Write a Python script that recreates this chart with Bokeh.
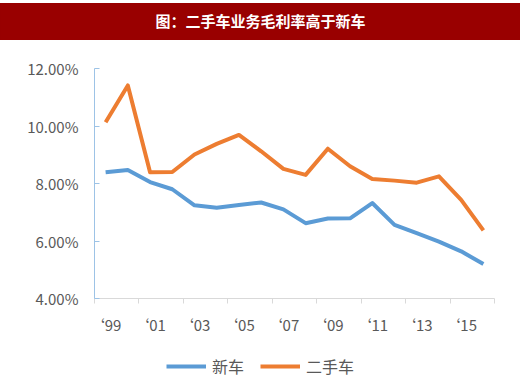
from bokeh.plotting import figure
from bokeh.layouts import column
from bokeh.models import (FixedTicker, PrintfTickFormatter, Legend, LegendItem, Range1d,
                          ColumnDataSource, Spacer)
from bokeh.core.properties import value
from bokeh.embed import file_html
from bokeh.resources import INLINE

title_text = "图：二手车业务毛利率高于新车"
years = ["1999", "2000", "2001", "2002", "2003", "2004", "2005", "2006", "2007",
         "2008", "2009", "2010", "2011", "2012", "2013", "2014", "2015", "2016"]
new_car = [8.39, 8.47, 8.05, 7.80, 7.24, 7.16, 7.25, 7.34, 7.10,
           6.62, 6.78, 6.79, 7.32, 6.56, 6.27, 5.98, 5.64, 5.20]
used_car = [10.13, 11.41, 8.39, 8.40, 9.01, 9.38, 9.69, 9.12, 8.51,
            8.30, 9.21, 8.60, 8.16, 8.10, 8.03, 8.25, 7.43, 6.37]
x_labels = ["‘99", "‘01", "‘03", "‘05", "‘07", "‘09", "‘11", "‘13", "‘15"]
y_ticks = [4, 6, 8, 10, 12]
series_names = ["新车", "二手车"]
colors = ["#5B9BD5", "#ED7D31"]

FONT = "Noto Sans CJK SC"
BAND = "#990000"

xs = [i + 0.5 for i in range(len(years))]
src = ColumnDataSource(dict(x=xs, year=years, new=new_car, used=used_car))

# ---- title band ----
tb = figure(width=520, height=37, output_backend="svg", toolbar_location=None,
            x_range=Range1d(0, 1), y_range=Range1d(0, 1),
            x_axis_type=None, y_axis_type=None, min_border=0)
tb.background_fill_color = BAND
tb.border_fill_color = BAND
tb.styles = {"background-color": BAND}
tb.outline_line_color = None
tb.grid.visible = False
tb.text(x=[0.415], y=[0.54], text=[title_text], text_color="white",
        text_font=value(FONT), text_font_style="bold", text_font_size="15px",
        text_align="center", text_baseline="middle")

# ---- main chart ----
p = figure(width=520, height=308, output_backend="svg", toolbar_location=None,
           x_range=Range1d(0, len(years)), y_range=Range1d(y_ticks[0], y_ticks[-1]),
           min_border_left=94, min_border_right=26, min_border_top=28, min_border_bottom=50)
p.outline_line_color = None
p.grid.visible = False
p.background_fill_color = "white"

p.line("x", "new", source=src, line_color=colors[0], line_width=4, line_join="round")
p.line("x", "used", source=src, line_color=colors[1], line_width=4, line_join="round")

# y axis
ya = p.yaxis[0]
ya.ticker = FixedTicker(ticks=y_ticks)
ya.formatter = PrintfTickFormatter(format="%.2f%%")
ya.axis_line_color = "#9DC3E6"
ya.major_tick_line_color = "#9DC3E6"
ya.major_tick_in = 5
ya.major_tick_out = 0
ya.minor_tick_line_color = None
ya.major_label_standoff = 16
ya.major_label_text_font = FONT
ya.major_label_text_font_size = "15px"
ya.major_label_text_color = "#595959"

# x axis
xa = p.xaxis[0]
label_pos = [xs[i] for i in range(0, len(years), 2)]
xa.ticker = FixedTicker(ticks=label_pos, minor_ticks=list(range(0, len(years) + 1, 2)))
xa.major_label_overrides = {pos: lab for pos, lab in zip(label_pos, x_labels)}
xa.axis_line_color = "#D9D9D9"
xa.major_tick_line_color = None
xa.minor_tick_line_color = "#D9D9D9"
xa.minor_tick_in = 0
xa.minor_tick_out = 5
xa.major_label_standoff = 9
xa.major_label_text_font = FONT
xa.major_label_text_font_size = "15px"
xa.major_label_text_color = "#595959"

# ---- legend strip ----
lg = figure(width=520, height=30, output_backend="svg", toolbar_location=None,
            x_range=Range1d(0, len(years)), y_range=Range1d(100, 101),
            x_axis_type=None, y_axis_type=None, min_border=0)
lg.outline_line_color = None
lg.grid.visible = False
l1 = lg.line("x", "new", source=src, line_color=colors[0], line_width=4)
l2 = lg.line("x", "used", source=src, line_color=colors[1], line_width=4)
legend = Legend(items=[LegendItem(label=series_names[0], renderers=[l1]),
                       LegendItem(label=series_names[1], renderers=[l2])],
                orientation="horizontal", location=(72, 0),
                glyph_width=40, glyph_height=16, label_text_font=FONT,
                label_text_font_size="16px", label_text_color="#595959",
                border_line_color=None, background_fill_alpha=0,
                margin=0, padding=0, spacing=16, label_standoff=6)
lg.add_layout(legend)

layout = column(Spacer(width=520, height=3), tb, p, lg, spacing=0)
open("out.html", "w").write(file_html(layout, INLINE))
